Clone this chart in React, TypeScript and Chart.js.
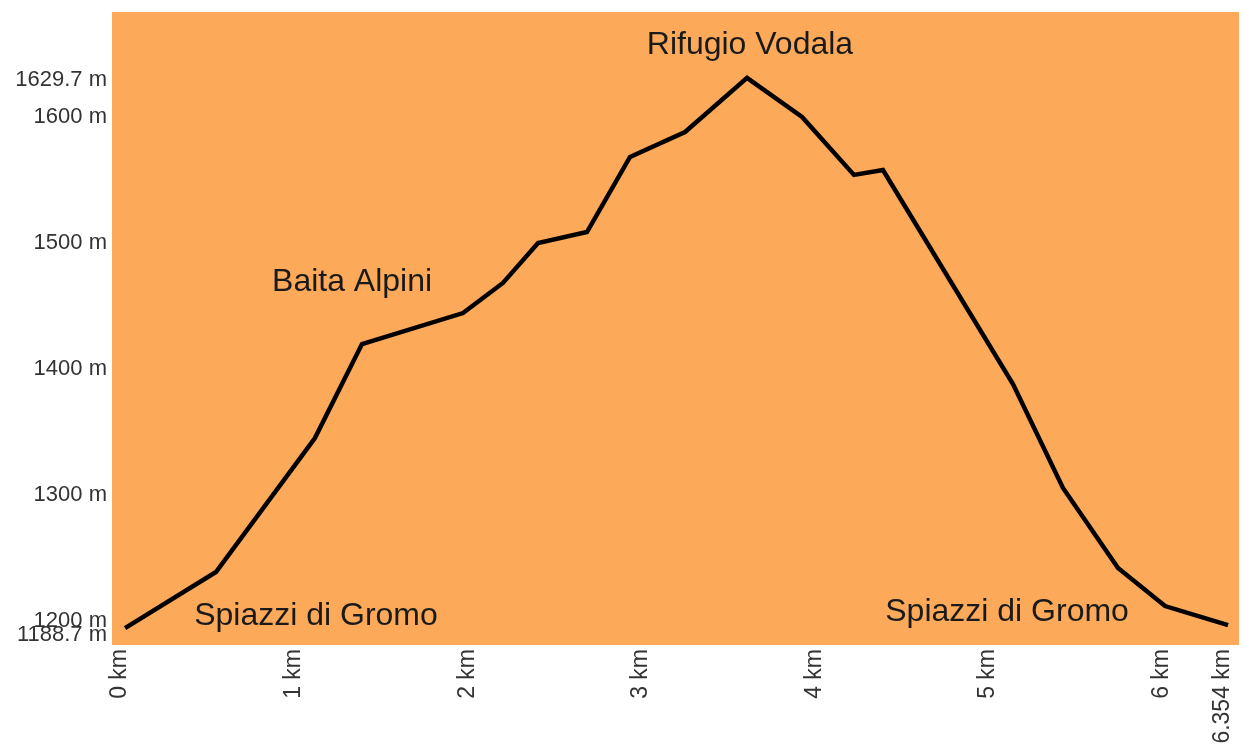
import React, { useEffect, useRef } from "react";
import { Chart, registerables } from "chart.js";

Chart.register(...registerables);

// Distance along the trail (km) and elevation (m)
const distanceKm = [0, 0.524, 1.094, 1.365, 1.947, 2.177, 2.379, 2.661, 2.909, 3.226, 3.583, 3.9, 4.199, 4.366, 5.115, 5.403, 5.72, 5.991, 6.354];
const elevationM = [1194.4, 1238.9, 1345.2, 1419.8, 1444.4, 1468.3, 1500, 1508.7, 1568.3, 1588.1, 1631, 1600, 1554, 1557.9, 1388.1, 1305.6, 1242.1, 1211.9, 1196.8];

const xTickValues = [0, 1, 2, 3, 4, 5, 6, 6.354];
const yTickValues = [1188.7, 1200, 1300, 1400, 1500, 1600, 1629.7];

// Place names and their anchor (km, m) on the chart
const placeNames = ["Rifugio Vodala", "Baita Alpini", "Spiazzi di Gromo", "Spiazzi di Gromo"];
const placeKm = [3.6, 1.308, 1.1, 5.081];
const placeElev = [1657, 1469, 1204, 1207];

const X_MIN = -0.075;
const X_MAX = 6.417;
const Y_MIN = 1181;
const Y_MAX = 1683.3;

export default function App() {
  const canvasRef = useRef<HTMLCanvasElement | null>(null);

  useEffect(() => {
    document.body.style.margin = "0";
    const canvas = canvasRef.current;
    if (!canvas) return;

    const bgPlugin = {
      id: "plotBg",
      beforeDraw(chart: any) {
        const { ctx, chartArea } = chart;
        ctx.save();
        ctx.fillStyle = "#FDA95A";
        ctx.fillRect(chartArea.left, chartArea.top, chartArea.right - chartArea.left, chartArea.bottom - chartArea.top);
        ctx.restore();
      },
    };

    const labelPlugin = {
      id: "placeLabels",
      afterDatasetsDraw(chart: any) {
        const { ctx } = chart;
        const xs = chart.scales.x;
        const ys = chart.scales.y;
        ctx.save();
        ctx.fillStyle = "#1a1a1a";
        ctx.font = "32px 'Liberation Sans', Arial, sans-serif";
        ctx.textAlign = "center";
        ctx.textBaseline = "middle";
        placeNames.forEach((name, i) => {
          ctx.fillText(name, xs.getPixelForValue(placeKm[i]), ys.getPixelForValue(placeElev[i]));
        });
        ctx.restore();
      },
    };

    const chart = new Chart(canvas, {
      type: "line",
      data: {
        datasets: [
          {
            data: distanceKm.map((d, i) => ({ x: d, y: elevationM[i] })),
            borderColor: "#000000",
            borderWidth: 4.5,
            pointRadius: 0,
            tension: 0,
            fill: false,
            borderJoinStyle: "miter",
          },
        ],
      },
      options: {
        animation: false,
        responsive: false,
        maintainAspectRatio: false,
        layout: { padding: { top: 12, right: 4, left: 0, bottom: 0 } },
        plugins: { legend: { display: false }, tooltip: { enabled: false } },
        scales: {
          x: {
            type: "linear",
            min: X_MIN,
            max: X_MAX,
            grid: { display: false, drawTicks: false },
            border: { display: false },
            afterBuildTicks: (scale: any) => {
              scale.ticks = xTickValues.map((v) => ({ value: v }));
            },
            afterFit: (scale: any) => {
              scale.height = 106;
              scale.paddingLeft = 0;
              scale.paddingRight = 0;
            },
            ticks: {
              autoSkip: false,
              minRotation: 90,
              maxRotation: 90,
              padding: 4,
              labelOffset: -5,
              color: "#333333",
              font: { family: "'Liberation Sans', Arial, sans-serif", size: 23 },
              callback: (v: any) => `${v} km`,
            },
          },
          y: {
            type: "linear",
            min: Y_MIN,
            max: Y_MAX,
            grid: { display: false, drawTicks: false },
            border: { display: false },
            afterBuildTicks: (scale: any) => {
              scale.ticks = yTickValues.map((v) => ({ value: v }));
            },
            afterFit: (scale: any) => {
              scale.width = 112;
              scale.paddingTop = 0;
              scale.paddingBottom = 0;
            },
            ticks: {
              autoSkip: false,
              padding: 5,
              color: "#333333",
              font: { family: "'Liberation Sans', Arial, sans-serif", size: 22 },
              callback: (v: any) => `${v} m`,
            },
          },
        },
      },
      plugins: [bgPlugin, labelPlugin],
    });

    return () => chart.destroy();
  }, []);

  return (
    <div style={{ width: 1243, height: 751, background: "#ffffff" }}>
      <canvas ref={canvasRef} width={1243} height={751} style={{ display: "block" }} />
    </div>
  );
}
